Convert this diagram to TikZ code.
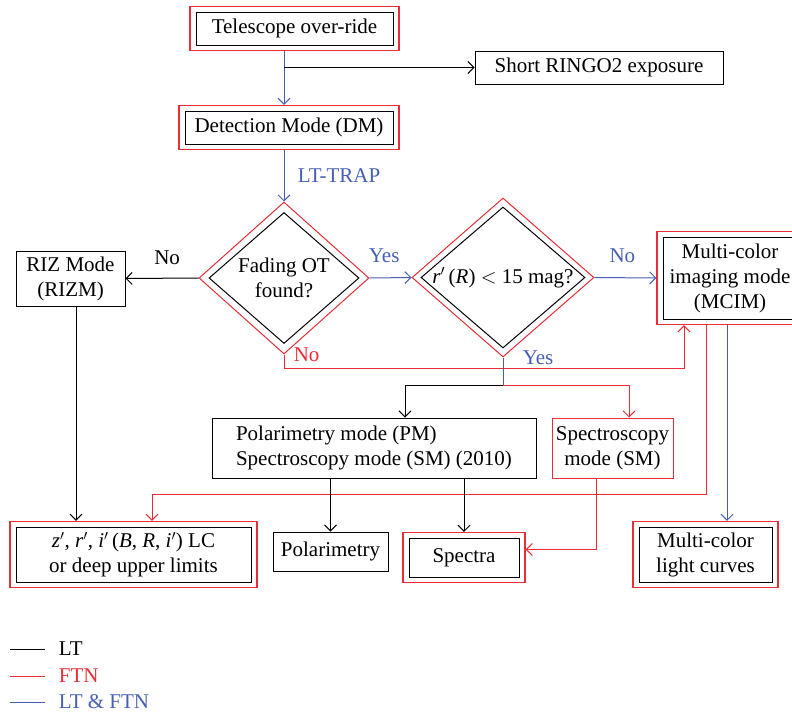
\documentclass[tikz,border=0pt]{standalone}
\usepackage{fontspec}
\setmainfont{Liberation Serif}
\usetikzlibrary{arrows.meta,fit,shapes.geometric}
\definecolor{ftnred}{RGB}{232,45,55}
\definecolor{ltblue}{RGB}{70,95,180}
\begin{document}
\begin{tikzpicture}
    [x=1pt,y=-1pt,line width=1pt,
     font=\fontsize{21}{25}\selectfont,
     >={Straight Barb[length=6pt,width=12pt]},
     box/.style={draw,rectangle,inner sep=2pt,align=center},
     redframe/.style={draw=ftnred,color=ftnred,rectangle,line width=1.2pt,inner xsep=5.5pt,inner ysep=5pt},
     query/.style={draw,diamond,shape aspect=1.15,inner sep=0pt,align=center},
     ftn/.style={ftnred},
     ltftn/.style={ltblue}]
    \useasboundingbox (0,0) rectangle (792,715);
    \clip (0,0) rectangle (792,715);
    % boxes
    \node (tel) at (294.5,28.5) [box,minimum width=197pt,minimum height=33pt] {Telescope over-ride};
    \node (tel-out) [redframe,fit=(tel)] {};
    \node (short) at (599,67.5) [box,minimum width=248pt,minimum height=33pt] {Short RINGO2 exposure};
    \node (dm) at (289,127.5) [box,minimum width=208pt,minimum height=33pt] {Detection Mode (DM)};
    \node (dm-out) [redframe,fit=(dm)] {};
    \node (fade-out) at (284,278) [diamond,draw=ftnred,minimum width=170pt,minimum height=152pt] {};
    \node (fade) at (284,278) [query,minimum width=150pt,minimum height=131pt] {Fading OT\\found?};
    \node (dia-out) at (503,277.5) [diamond,draw=ftnred,minimum width=182pt,minimum height=159pt] {};
    \node (dia) at (503,277.5) [query,minimum width=164pt,minimum height=141pt] {\makebox[0pt]{\textit{r}$'$\,(\textit{R}) $<$ 15 mag?}};
    \node (riz) at (70.5,278.5) [box,minimum width=109pt,minimum height=55pt] {RIZ Mode\\(RIZM)};
    \node (mcim) at (730,278) [box,minimum width=134pt,minimum height=82pt] {Multi-color\\imaging mode\\(MCIM)};
    \node (mcim-out) [redframe,fit=(mcim)] {};
    \node (pm) at (374,448) [box,align=left,minimum width=324pt,minimum height=60pt] {Polarimetry mode (PM)\\Spectroscopy mode (SM) (2010)};
    \node (sm) at (612.5,448) [box,draw=ftnred,minimum width=121pt,minimum height=60pt] {Spectroscopy\\mode (SM)};
    \node (lc) at (133.5,554.5) [box,minimum width=235pt,minimum height=55pt] {\textit{z}$'$, \textit{r}$'$, \textit{i}$'$\,(\textit{B}, \textit{R}, \textit{i}$'$) LC\\or deep upper limits};
    \node (lc-out) [redframe,fit=(lc)] {};
    \node (pol) at (330.5,551.5) [box,minimum width=115pt,minimum height=39pt] {Polarimetry};
    \node (spec) at (464,557.5) [box,minimum width=110pt,minimum height=39pt] {Spectra};
    \node (spec-out) [redframe,fit=(spec)] {};
    \node (mclc) at (705.5,554.5) [box,minimum width=133pt,minimum height=55pt] {Multi-color\\light curves};
    \node (mclc-out) [redframe,fit=(mclc)] {};
    \coordinate (riz-foot) at ([xshift=5.5pt]riz.south);
    \coordinate (mcim-foot) at ([xshift=-3pt]mcim-out.south);
    % connectors
    \draw [ltftn,->] (fade-out.north |- tel-out.south) -- (fade-out.north |- dm-out.north);
    \draw [->] (fade-out.north |- short.west) -- (short.west);
    \draw [ltftn,->] (fade-out.north |- dm-out.south) -- node [right=10pt] {LT-TRAP} (fade-out.north);
    \draw [->] (fade-out.west) -- node [above=10pt,pos=0.43] {No} (riz.east);
    \draw [ltftn,->] (fade-out.east) -- node [above=11pt,pos=0.35] {Yes} (dia-out.west);
    \draw [ltftn,->] (dia-out.east) -- node [above=11pt,pos=0.45] {No} (mcim-out.west);
    \draw [ftn,->] (fade-out.south) node [anchor=west,xshift=6pt] {No} -- ++(0,14) -| ([xshift=-46pt]mcim-out.south);
    \draw [ltftn] (dia-out.south) node [anchor=west,xshift=16pt] {Yes} -- ++(0,28) coordinate (split);
    \draw [->] (split) -| ([xshift=31pt]pm.north);
    \draw [ftn,->] (split) -| ([xshift=16.5pt]sm.north);
    \draw [->] (riz-foot) -- (riz-foot |- lc-out.north);
    \draw [ftn,->] ([xshift=-24pt]mcim-out.south) -- ++(0,169) -| ([xshift=18.5pt]lc-out.north);
    \draw [ltftn,->] (mcim-foot) -- (mcim-foot |- mclc-out.north);
    \draw [->] (pol.north |- pm.south) -- (pol.north);
    \draw [->] (spec-out.north |- pm.south) -- (spec-out.north);
    \draw [ftn,->] ([xshift=-16.5pt]sm.south) |- ([yshift=8pt]spec-out.east);
    % key
    \foreach \col/\key/\y in {black/LT/649,ftnred/FTN/676,ltblue/LT \& FTN/702}
      \draw [\col] (10,\y) -- (45,\y) node [right=10pt] {\key};
  \end{tikzpicture}
\end{document}
